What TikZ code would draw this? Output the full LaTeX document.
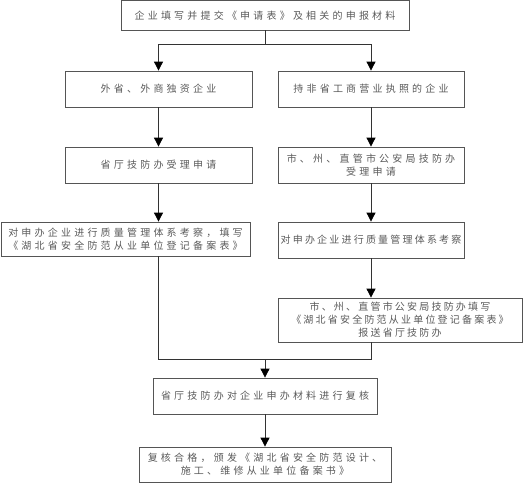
\documentclass[tikz,border=0pt]{standalone}
\usepackage{fontspec}
\setmainfont{Noto Sans CJK SC}[LetterSpace=32]
\newfontfamily\tightcjk{Noto Sans CJK SC}[LetterSpace=22]
\usetikzlibrary{arrows.meta}
\definecolor{framegrey}{HTML}{555555}
\definecolor{linegrey}{HTML}{333333}
\definecolor{textgrey}{HTML}{5A5A5A}

\begin{document}
\begin{tikzpicture}[
    x=1pt, y=-1pt,
    every node/.style={font=\fontsize{10}{13}\selectfont, align=center, text=textgrey},
    stage/.style={draw=framegrey, line width=0.8pt, inner sep=1pt},
    tight/.style={font=\tightcjk\fontsize{10}{13}\selectfont},
    flow/.style={-{Triangle[length=9pt, width=9pt, color=black]}, linegrey, line width=0.8pt},
    tie/.style={linegrey, line width=0.8pt}
  ]
  \useasboundingbox (0,0) rectangle (524,483);

  % --- tete : depot de la demande -----------------------------------------
  \node[stage, minimum width=288pt, minimum height=29.5pt] (req) at (265,15.25)
    {企业填写并提交《申请表》及相关的申报材料};

  % --- colonne gauche ------------------------------------------------------
  \node[stage, minimum width=187pt, minimum height=36pt] (wai)   at (158.5,89)  {外省、外商独资企业};
  \node[stage, minimum width=187pt, minimum height=36pt] (sheng) at (158.5,165) {省厅技防办受理申请};
  \node[stage, minimum width=249pt, minimum height=34pt] (kaoL)  at (125.5,239)
    {对申办企业进行质量管理体系考察，填写\\《湖北省安全防范从业单位登记备案表》};

  % --- colonne droite ------------------------------------------------------
  \node[stage, minimum width=186pt, minimum height=36pt] (fei) at (371,89)  {持非省工商营业执照的企业};
  \node[stage, minimum width=186pt, minimum height=36pt] (shi) at (371,165)
    {市、州、直管市公安局技防办\\受理申请};
  \node[stage, tight, minimum width=186pt, minimum height=36pt] (kaoR) at (371,240) {对申办企业进行质量管理体系考察};
  \node[stage, tight, minimum width=244pt, minimum height=44pt] (tian) at (400,320)
    {市、州、直管市公安局技防办填写\\《湖北省安全防范从业单位登记备案表》\\报送省厅技防办};

  % --- aval : reexamen et certificat --------------------------------------
  \node[stage, minimum width=224pt, minimum height=36pt] (fuhe) at (265,396) {省厅技防办对企业申办材料进行复核};
  \node[stage, minimum width=252pt, minimum height=35pt] (fa)   at (265,464.5)
    {复核合格，颁发《湖北省安全防范设计、\\施工、维修从业单位备案书》};

  % --- connecteurs ---------------------------------------------------------
  \coordinate (split) at (265,44);
  \coordinate (merge) at (265,359);
  \draw[tie] (req.south) -- (split);
  \draw[flow] (split) -| (wai.north);
  \draw[flow] (split) -| (fei.north);
  \draw[flow] (wai.south) -- (sheng.north);
  \draw[flow] (fei.south) -- (shi.north);
  \draw[flow] (sheng.south) -- (sheng.south |- kaoL.north);
  \draw[flow] (shi.south) -- (kaoR.north);
  \draw[flow] (kaoR.south) -- (kaoR.south |- tian.north);
  \draw[tie] (sheng.south |- kaoL.south) |- (merge);
  \draw[tie] (kaoR.south |- tian.south) |- (merge);
  \draw[flow] (merge) -- (fuhe.north);
  \draw[flow] (fuhe.south) -- (fa.north);

\end{tikzpicture}
\end{document}
